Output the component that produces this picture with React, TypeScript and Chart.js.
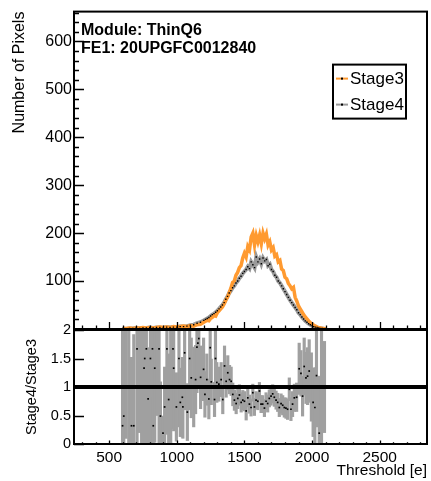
import React, { useEffect, useRef } from 'react';
import { Chart, registerables } from 'chart.js';

Chart.register(...registerables);

// ---------------- data ----------------
const binCenters = [
  600, 625, 650, 675, 700, 725, 750, 775, 800, 825, 850, 875, 900, 925, 950, 975,
  1000, 1025, 1050, 1075, 1100, 1125, 1150, 1175,
  1200, 1212.5, 1225, 1237.5, 1250, 1262.5, 1275, 1287.5, 1300, 1312.5, 1325, 1337.5,
  1350, 1362.5, 1375, 1387.5, 1400, 1412.5, 1425, 1437.5, 1450, 1462.5, 1475, 1487.5,
  1500, 1512.5, 1525, 1537.5, 1550, 1562.5, 1575, 1587.5, 1600, 1612.5, 1625, 1637.5,
  1650, 1662.5, 1675, 1687.5, 1700, 1712.5, 1725, 1737.5, 1750, 1762.5, 1775, 1787.5,
  1800, 1812.5, 1825, 1837.5, 1850, 1862.5, 1875, 1887.5, 1900, 1912.5, 1925, 1937.5,
  1950, 1962.5, 1975, 1987.5, 2000, 2012.5, 2025, 2037.5, 2050, 2062.5, 2075, 2087.5, 2100,
];
const stage3Counts = [
  1, 1, 2, 1, 2, 2, 3, 2, 3, 2, 3, 4, 3, 4, 3, 5,
  4, 5, 6, 5, 7, 6, 9, 10,
  14, 16, 18, 17, 22, 24, 28, 27, 34, 38, 42, 46,
  52, 60, 66, 76, 85, 97, 100, 112, 118, 128, 132, 148,
  158, 150, 172, 165, 192, 200, 175, 195, 182, 196, 178, 200,
  188, 198, 175, 182, 165, 170, 152, 155, 140, 143, 125, 122,
  108, 105, 95, 90, 84, 87, 66, 58, 48, 42, 36, 30,
  25, 21, 17, 13, 11, 8, 6, 4, 3, 2, 1, 1, 0,
];
const stage4Counts = [
  1, 0, 1, 1, 2, 1, 2, 2, 3, 2, 3, 3, 2, 4, 3, 4,
  4, 5, 5, 6, 8, 9, 12, 14,
  18, 20, 22, 24, 27, 30, 32, 35, 38, 42, 46, 50,
  55, 62, 68, 75, 80, 86, 90, 96, 100, 106, 110, 116,
  120, 124, 130, 126, 140, 134, 128, 150, 140, 146, 136, 148,
  142, 145, 132, 135, 124, 120, 112, 108, 100, 96, 90, 84,
  78, 72, 66, 60, 55, 50, 45, 40, 34, 30, 25, 21,
  17, 14, 11, 9, 7, 5, 4, 3, 2, 1, 1, 0, 0,
];

const ratioX = [
  599, 608, 625, 645, 665, 682, 706, 725, 740, 758, 763, 775, 788, 805, 820, 826,
  837, 852, 869, 879, 898, 910, 927, 940, 955, 972, 977, 997, 1016, 1026, 1041, 1045,
  1058, 1078, 1095, 1107, 1125, 1139, 1149, 1156, 1163, 1176, 1198, 1208, 1222, 1237, 1247, 1255,
  1279, 1286, 1296, 1311, 1328, 1340, 1353, 1365, 1377, 1390, 1402,
  1414, 1426, 1439, 1451, 1463, 1476, 1488, 1500, 1513, 1525, 1537, 1549, 1562, 1574, 1586, 1599,
  1611, 1623, 1635, 1648, 1660, 1672, 1684, 1697, 1709, 1721, 1734, 1746, 1758, 1771, 1783, 1795,
  1807, 1819, 1832, 1844, 1856, 1869, 1886, 1905, 1918, 1930, 1942, 1955, 1967, 1979, 1995, 2008,
  2021, 2033, 2053, 2070, 2092,
];
const ratioY = [
  0.32, 0.49, 2.5, 1.0, 0.32, 0.32, 1.67, 2.2, 1.0, 1.33, 1.5, 1.67, 0.79, 1.5, 1.67, 0.32,
  1.33, 2.5, 1.67, 0.49, 0.19, 0.65, 1.67, 0.78, 1.0, 1.67, 1.33, 0.65, 1.5, 0.73, 0.82, 0.65,
  1.6, 0.56, 1.5, 1.16, 1.0, 1.13, 1.7, 1.77, 1.85, 1.17, 1.31, 0.87, 1.13, 0.79, 1.69, 1.09,
  0.78, 1.5, 1.08, 1.05, 1.13, 0.78, 1.37, 1.1, 1.25, 1.13, 1.1,
  0.87, 0.77, 0.71, 0.8, 0.86, 0.73, 0.77, 0.75, 0.58, 0.81, 0.7, 0.64, 0.9, 0.65, 0.77, 0.75,
  0.93, 0.7, 0.7, 0.63, 0.75, 0.71, 0.8, 0.84, 0.88, 0.82, 0.77, 0.73, 0.64, 0.71, 0.68, 0.64,
  0.63, 0.61, 0.96, 0.61, 0.7, 0.81, 0.82, 1.32, 1.24, 0.84, 1.36, 1.16, 1.19, 1.28, 1.0, 0.73,
  0.64, 1.2, 0.19, 1.0, 1.0,
];
const ratioErr = [
  1.7, 1.6, 2.4, 1.5, 1.2, 1.6, 1.7, 2.0, 1.4, 1.4, 1.5, 1.7, 0.9, 1.5, 1.7, 0.5,
  1.3, 2.0, 1.7, 0.6, 0.3, 0.7, 1.5, 0.8, 1.2, 1.4, 1.1, 0.6, 1.2, 0.6, 0.7, 0.55,
  1.0, 0.5, 0.9, 0.7, 0.7, 0.6, 0.8, 0.8, 0.8, 0.55, 0.55, 0.4, 0.45, 0.35, 0.6, 0.4,
  0.3, 0.5, 0.35, 0.3, 0.3, 0.25, 0.35, 0.28, 0.3, 0.25, 0.25,
  0.2, 0.18, 0.18, 0.18, 0.18, 0.17, 0.17, 0.17, 0.16, 0.16, 0.16, 0.15, 0.15, 0.15, 0.15, 0.15,
  0.15, 0.15, 0.15, 0.15, 0.15, 0.15, 0.15, 0.16, 0.16, 0.16, 0.16, 0.16, 0.16, 0.17, 0.17, 0.17,
  0.18, 0.18, 0.2, 0.2, 0.22, 0.24, 0.25, 0.45, 0.4, 0.35, 0.5, 0.45, 0.5, 0.55, 0.6, 0.6,
  0.7, 0.9, 1.0, 1.1, 0.8,
];

const xTickValues = [500, 1000, 1500, 2000, 2500];
const topYTickValues = [100, 200, 300, 400, 500, 600];
const ratioYTickValues = [0, 0.5, 1, 1.5, 2];
const seriesNames = ['Stage3', 'Stage4'];
const moduleLabel = 'Module: ThinQ6';
const feLabel = 'FE1: 20UPGFC0012840';
const topYTitle = 'Number of Pixels';
const ratioYTitle = 'Stage4/Stage3';
const xTitle = 'Threshold [e]';

const X_MIN = 240;
const X_MAX = 2850;
const TOP_Y_MAX = 662;

// ---------------- style ----------------
const FONT = '"Liberation Sans", Arial, Helvetica, sans-serif';
const ORANGE = '#ff9a30';
const GRAY = '#9a9a9a';

const W = 431;
const H = 481;

type FrameOpts = {
  xMajor: number; xMinor: number; xMajorLen: number; xMinorLen: number;
  yMin: number; yMax: number; yMajor: number; yMinor: number; yMajorLen: number; yMinorLen: number;
};

const isMultiple = (v: number, step: number) => Math.abs(v / step - Math.round(v / step)) < 1e-6;

const framePlugin = {
  id: 'rootFrame',
  afterDatasetsDraw(chart: any, _args: any, opts: FrameOpts) {
    const { ctx, chartArea: a, scales } = chart;
    const xs = scales.x;
    const ys = scales.y;
    ctx.save();
    ctx.strokeStyle = '#000';
    ctx.lineWidth = 1.3;
    ctx.beginPath();
    const n0 = Math.ceil(X_MIN / opts.xMinor);
    const n1 = Math.floor(X_MAX / opts.xMinor);
    for (let n = n0; n <= n1; n++) {
      const v = n * opts.xMinor;
      const px = Math.round(xs.getPixelForValue(v)) + 0.5;
      const len = isMultiple(v, opts.xMajor) ? opts.xMajorLen : opts.xMinorLen;
      ctx.moveTo(px, a.bottom);
      ctx.lineTo(px, a.bottom - len);
    }
    const m0 = Math.ceil(opts.yMin / opts.yMinor - 1e-9);
    const m1 = Math.floor(opts.yMax / opts.yMinor + 1e-9);
    for (let m = m0; m <= m1; m++) {
      const v = m * opts.yMinor;
      const py = Math.round(ys.getPixelForValue(v)) + 0.5;
      const len = isMultiple(v, opts.yMajor) ? opts.yMajorLen : opts.yMinorLen;
      ctx.moveTo(a.left, py);
      ctx.lineTo(a.left + len, py);
    }
    ctx.stroke();
    ctx.lineWidth = 2;
    ctx.strokeRect(a.left, a.top, a.right - a.left, a.bottom - a.top);
    ctx.restore();
  },
};

const annotationPlugin = {
  id: 'rootText',
  afterDraw(chart: any) {
    const { ctx, chartArea: a } = chart;
    ctx.save();
    ctx.fillStyle = '#000';
    ctx.font = `bold 16px ${FONT}`;
    ctx.textAlign = 'left';
    ctx.textBaseline = 'middle';
    ctx.fillText(moduleLabel, a.left + 7, a.top + 19);
    ctx.fillText(feLabel, a.left + 7, a.top + 37);

    // legend box
    const bx = a.right - 94;
    const by = a.top + 53;
    const bw = 73;
    const bh = 54;
    ctx.fillStyle = '#fff';
    ctx.fillRect(bx, by, bw, bh);
    ctx.lineWidth = 2;
    ctx.strokeStyle = '#000';
    ctx.strokeRect(bx, by, bw, bh);
    const rows = [
      { name: seriesNames[0], color: ORANGE, y: by + 14 },
      { name: seriesNames[1], color: GRAY, y: by + 40 },
    ];
    for (const r of rows) {
      ctx.strokeStyle = r.color;
      ctx.lineWidth = 2;
      ctx.beginPath();
      ctx.moveTo(bx + 3, r.y);
      ctx.lineTo(bx + 15, r.y);
      ctx.stroke();
      ctx.fillStyle = '#000';
      ctx.fillRect(bx + 8, r.y - 1, 2, 2);
      ctx.font = `17px ${FONT}`;
      ctx.fillText(r.name, bx + 17, r.y + 1);
    }
    ctx.restore();
  },
};

function TopChart() {
  const ref = useRef<HTMLCanvasElement | null>(null);
  useEffect(() => {
    if (!ref.current) return;
    const chart = new Chart(ref.current, {
      type: 'line',
      data: {
        datasets: [
          {
            label: seriesNames[1],
            data: binCenters.map((x, i) => ({ x, y: stage4Counts[i] })),
            borderColor: GRAY,
            borderWidth: 4,
            pointRadius: 0,
            tension: 0,
            order: 3,
          },
          {
            label: seriesNames[0],
            data: binCenters.map((x, i) => ({ x, y: stage3Counts[i] })),
            borderColor: ORANGE,
            borderWidth: 3.5,
            pointRadius: 0,
            tension: 0,
            order: 2,
          },
          {
            label: seriesNames[1] + ' markers',
            data: binCenters.map((x, i) => ({ x, y: stage4Counts[i] })),
            showLine: false,
            pointStyle: 'rect',
            pointRadius: 1,
            pointBackgroundColor: '#000',
            pointBorderWidth: 0,
            order: 1,
          },
        ],
      },
      options: {
        responsive: false,
        animation: false,
        events: [],
        layout: { padding: { top: 9, right: 3, bottom: H - 329, left: 0 } },
        plugins: {
          legend: { display: false },
          tooltip: { enabled: false },
          rootFrame: {
            xMajor: 500, xMinor: 100, xMajorLen: 7, xMinorLen: 3.5,
            yMin: 0, yMax: TOP_Y_MAX, yMajor: 100, yMinor: 20, yMajorLen: 10, yMinorLen: 5,
          },
        } as any,
        scales: {
          x: { type: 'linear', min: X_MIN, max: X_MAX, display: false },
          y: {
            type: 'linear',
            min: 0,
            max: TOP_Y_MAX,
            afterBuildTicks: (s: any) => { s.ticks = topYTickValues.map((v) => ({ value: v })); },
            afterFit: (s: any) => { s.width = 74; },
            grid: { display: false, drawTicks: false },
            border: { display: false },
            ticks: { color: '#000', padding: 2, font: { family: FONT, size: 16 }, callback: (v: any) => String(v) },
            title: {
              display: true,
              text: topYTitle,
              align: 'end',
              color: '#000',
              font: { family: FONT, size: 16 },
              padding: { top: 10, bottom: 0 },
            },
          },
        },
      },
      plugins: [framePlugin, annotationPlugin],
    });
    return () => chart.destroy();
  }, []);
  return <canvas ref={ref} width={W} height={H} style={{ position: 'absolute', left: 0, top: 0 }} />;
}

function RatioChart() {
  const ref = useRef<HTMLCanvasElement | null>(null);
  useEffect(() => {
    if (!ref.current) return;
    const chart = new Chart(ref.current, {
      type: 'bar',
      data: {
        datasets: [
          {
            type: 'bar',
            label: 'ratio error',
            data: ratioX.map((x, i) => ({ x, y: [ratioY[i] - ratioErr[i], ratioY[i] + ratioErr[i]] })) as any,
            backgroundColor: '#a0a0a0',
            borderWidth: 0,
            barThickness: 2.5,
            order: 3,
          },
          {
            type: 'scatter',
            label: 'ratio',
            data: ratioX.map((x, i) => ({ x, y: ratioY[i] })),
            pointStyle: 'rect',
            pointRadius: 1.2,
            pointBackgroundColor: '#000',
            pointBorderWidth: 0,
            order: 2,
          } as any,
          {
            type: 'line',
            label: 'unity',
            data: [{ x: X_MIN, y: 1 }, { x: X_MAX, y: 1 }],
            borderColor: '#000',
            borderWidth: 4,
            pointRadius: 0,
            order: 1,
          } as any,
        ],
      },
      options: {
        responsive: false,
        animation: false,
        events: [],
        layout: { padding: { top: 330, right: 3, bottom: 0, left: 0 } },
        plugins: {
          legend: { display: false },
          tooltip: { enabled: false },
          rootFrame: {
            xMajor: 500, xMinor: 100, xMajorLen: 3.5, xMinorLen: 1.8,
            yMin: 0, yMax: 2, yMajor: 0.5, yMinor: 0.5, yMajorLen: 10, yMinorLen: 5,
          },
        } as any,
        scales: {
          x: {
            type: 'linear',
            min: X_MIN,
            max: X_MAX,
            offset: false,
            afterBuildTicks: (s: any) => { s.ticks = xTickValues.map((v) => ({ value: v })); },
            afterFit: (s: any) => { s.height = H - 444; },
            grid: { display: false, drawTicks: false },
            border: { display: false },
            ticks: { color: '#000', padding: 4, maxRotation: 0, font: { family: FONT, size: 15.5 }, callback: (v: any) => String(v) },
            title: {
              display: true,
              text: xTitle,
              align: 'end',
              color: '#000',
              font: { family: FONT, size: 15.5 },
              padding: { top: 0, bottom: 1 },
            },
          },
          y: {
            type: 'linear',
            min: 0,
            max: 2,
            afterBuildTicks: (s: any) => { s.ticks = ratioYTickValues.map((v) => ({ value: v })); },
            afterFit: (s: any) => { s.width = 74; },
            grid: { display: false, drawTicks: false },
            border: { display: false },
            ticks: { color: '#000', padding: 3, font: { family: FONT, size: 14.5 }, callback: (v: any) => String(v) },
            title: {
              display: true,
              text: ratioYTitle,
              align: 'center',
              color: '#000',
              font: { family: FONT, size: 14.5 },
              padding: { top: 23, bottom: 0 },
            },
          },
        },
      },
      plugins: [framePlugin],
    });
    return () => chart.destroy();
  }, []);
  return <canvas ref={ref} width={W} height={H} style={{ position: 'absolute', left: 0, top: 0 }} />;
}

export default function App() {
  return (
    <div style={{ position: 'fixed', left: 0, top: 0, width: W, height: H, background: '#fff' }}>
      <TopChart />
      <RatioChart />
    </div>
  );
}
